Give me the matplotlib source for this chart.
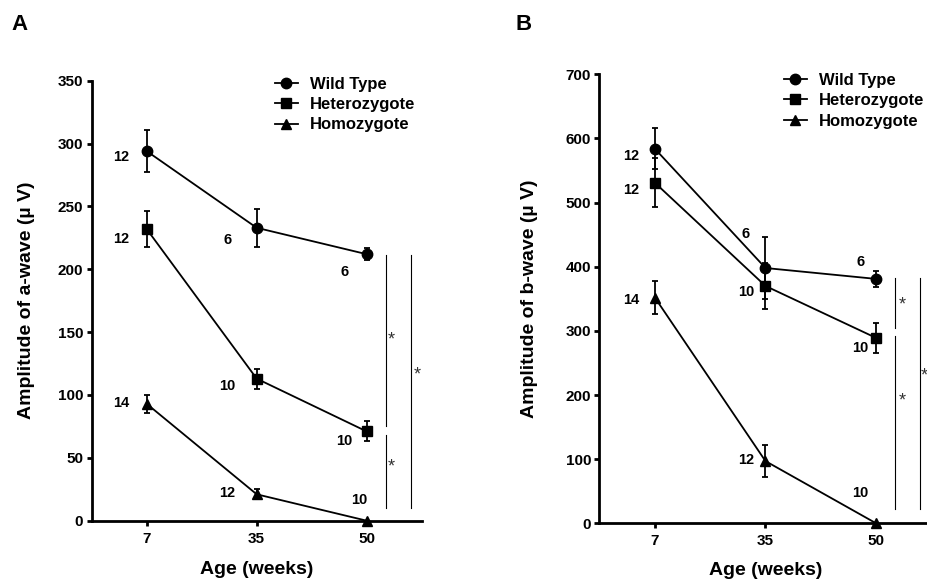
import matplotlib
matplotlib.use("Agg")
import matplotlib.pyplot as plt
from matplotlib.lines import Line2D
import numpy as np

plt.rcParams['font.family'] = ['Liberation Sans', 'DejaVu Sans']

# ages (categorical x positions 0, 1, 2)
ages = ['7', '35', '50']
groups = ['Wild Type', 'Heterozygote', 'Homozygote']
markers = ['o', 's', '^']

# panel A: a-wave amplitude (uV)
a_mean = {
    'Wild Type':    [294, 233, 212],
    'Heterozygote': [232, 113, 71],
    'Homozygote':   [93, 21, 0],
}
a_err = {
    'Wild Type':    [17, 15, 5],
    'Heterozygote': [14, 8, 8],
    'Homozygote':   [7, 4, 0],
}
a_n = {
    'Wild Type':    [12, 6, 6],
    'Heterozygote': [12, 10, 10],
    'Homozygote':   [14, 12, 10],
}

# panel B: b-wave amplitude (uV)
b_mean = {
    'Wild Type':    [584, 398, 381],
    'Heterozygote': [531, 370, 289],
    'Homozygote':   [352, 97, 0],
}
b_err = {
    'Wild Type':    [32, 48, 12],
    'Heterozygote': [38, 36, 24],
    'Homozygote':   [26, 25, 0],
}
b_n = {
    'Wild Type':    [12, 6, 6],
    'Heterozygote': [12, 10, 10],
    'Homozygote':   [14, 12, 10],
}

# significance bars: (x, y_bottom, y_top) and asterisk spots
a_sig = [(2.176, 75, 211), (2.176, 10, 68), (2.405, 10, 211)]
a_star = [(2.225, 144), (2.225, 43), (2.46, 116)]
b_sig = [(2.174, 305, 382), (2.174, 23, 292), (2.40, 23, 382)]
b_star = [(2.24, 341), (2.24, 191), (2.436, 230)]

# n label offsets in pixels, per group per age
a_off = {
    'Wild Type':    [(-25, -6), (-29, -12), (-22, -18)],
    'Heterozygote': [(-25, -10), (-29, -7), (-22, -10)],
    'Homozygote':   [(-25, 1), (-29, 1), (-7, 21)],
}
b_off = {
    'Wild Type':    [(-24, -7), (-20, 34), (-16, 17)],
    'Heterozygote': [(-24, -7), (-19, -6), (-16, -10)],
    'Homozygote':   [(-24, -2), (-19, 1), (-16, 30)],
}


def draw_panel(ax, means, errs, ns, offs, sig, stars, ymax, ystep, ylabel):
    x = np.arange(len(ages))
    for g, m in zip(groups, markers):
        ax.errorbar(x, means[g], yerr=errs[g], color='black', marker=m,
                    markersize=7.5, linewidth=1.3, elinewidth=1.3,
                    capsize=2.5, capthick=1.3, clip_on=False, zorder=3)
        for xi, yi, n, (dx, dy) in zip(x, means[g], ns[g], offs[g]):
            ax.annotate(str(n), (xi, yi), xytext=(dx, dy), textcoords='offset pixels',
                        ha='center', va='center', fontsize=10.5, fontweight='bold')
    for sx, y0, y1 in sig:
        ax.plot([sx, sx], [y0, y1], color='black', linewidth=0.8, clip_on=False)
    for sx, sy in stars:
        ax.text(sx, sy, '*', ha='center', va='center', fontsize=13, color='#333333',
                clip_on=False)

    ax.set_xlim(-0.5, 2.5)
    ax.set_ylim(0, ymax)
    ax.set_xticks(x)
    ax.set_xticklabels(ages)
    ax.set_yticks(np.arange(0, ymax + 1, ystep))
    for s in ['top', 'right']:
        ax.spines[s].set_visible(False)
    for s in ['left', 'bottom']:
        ax.spines[s].set_linewidth(2.0)
    ax.tick_params(direction='out', length=3.5, width=2.0, labelsize=11)
    ax.tick_params(axis='x', pad=4.5)
    ax.tick_params(axis='y', pad=2.5)
    for lab in ax.get_xticklabels() + ax.get_yticklabels():
        lab.set_fontweight('bold')
    ax.set_ylabel(ylabel, fontsize=14, fontweight='bold')
    ax.set_xlabel('Age (weeks)', fontsize=14, fontweight='bold')


fig = plt.figure(figsize=(9.28, 5.79), dpi=100)

ax_a = fig.add_axes([0.0988, 0.1007, 0.3556, 0.7599])
draw_panel(ax_a, a_mean, a_err, a_n, a_off, a_sig, a_star, 350, 50,
           'Amplitude of a-wave (\u00b5 V)')
ax_a.yaxis.set_label_coords(-0.173, 0.5)
ax_a.xaxis.set_label_coords(0.5, -0.092)

ax_b = fig.add_axes([0.646, 0.0962, 0.3577, 0.7755])
draw_panel(ax_b, b_mean, b_err, b_n, b_off, b_sig, b_star, 700, 100,
           'Amplitude of b-wave (\u00b5 V)')
ax_b.yaxis.set_label_coords(-0.184, 0.5)
ax_b.xaxis.set_label_coords(0.5, -0.086)

handles = [Line2D([], [], color='black', marker=m, markersize=7.5, linewidth=1.3)
           for m in markers]
for ax, anchor in [(ax_a, (275 / 928, 0.8675)), (ax_b, (784 / 928, 0.874))]:
    ax.legend(handles, groups, loc='upper left', bbox_to_anchor=anchor,
              bbox_transform=fig.transFigure, frameon=False, borderpad=0,
              borderaxespad=0, handlelength=1.38, handletextpad=0.72,
              labelspacing=0.32, prop={'weight': 'bold', 'size': 12})

fig.text(20 / 928, 1 - 24 / 579, 'A', ha='center', va='center', fontsize=16, fontweight='bold')
fig.text(524 / 928, 1 - 24 / 579, 'B', ha='center', va='center', fontsize=16, fontweight='bold')

fig.savefig('out.png', dpi=100)
